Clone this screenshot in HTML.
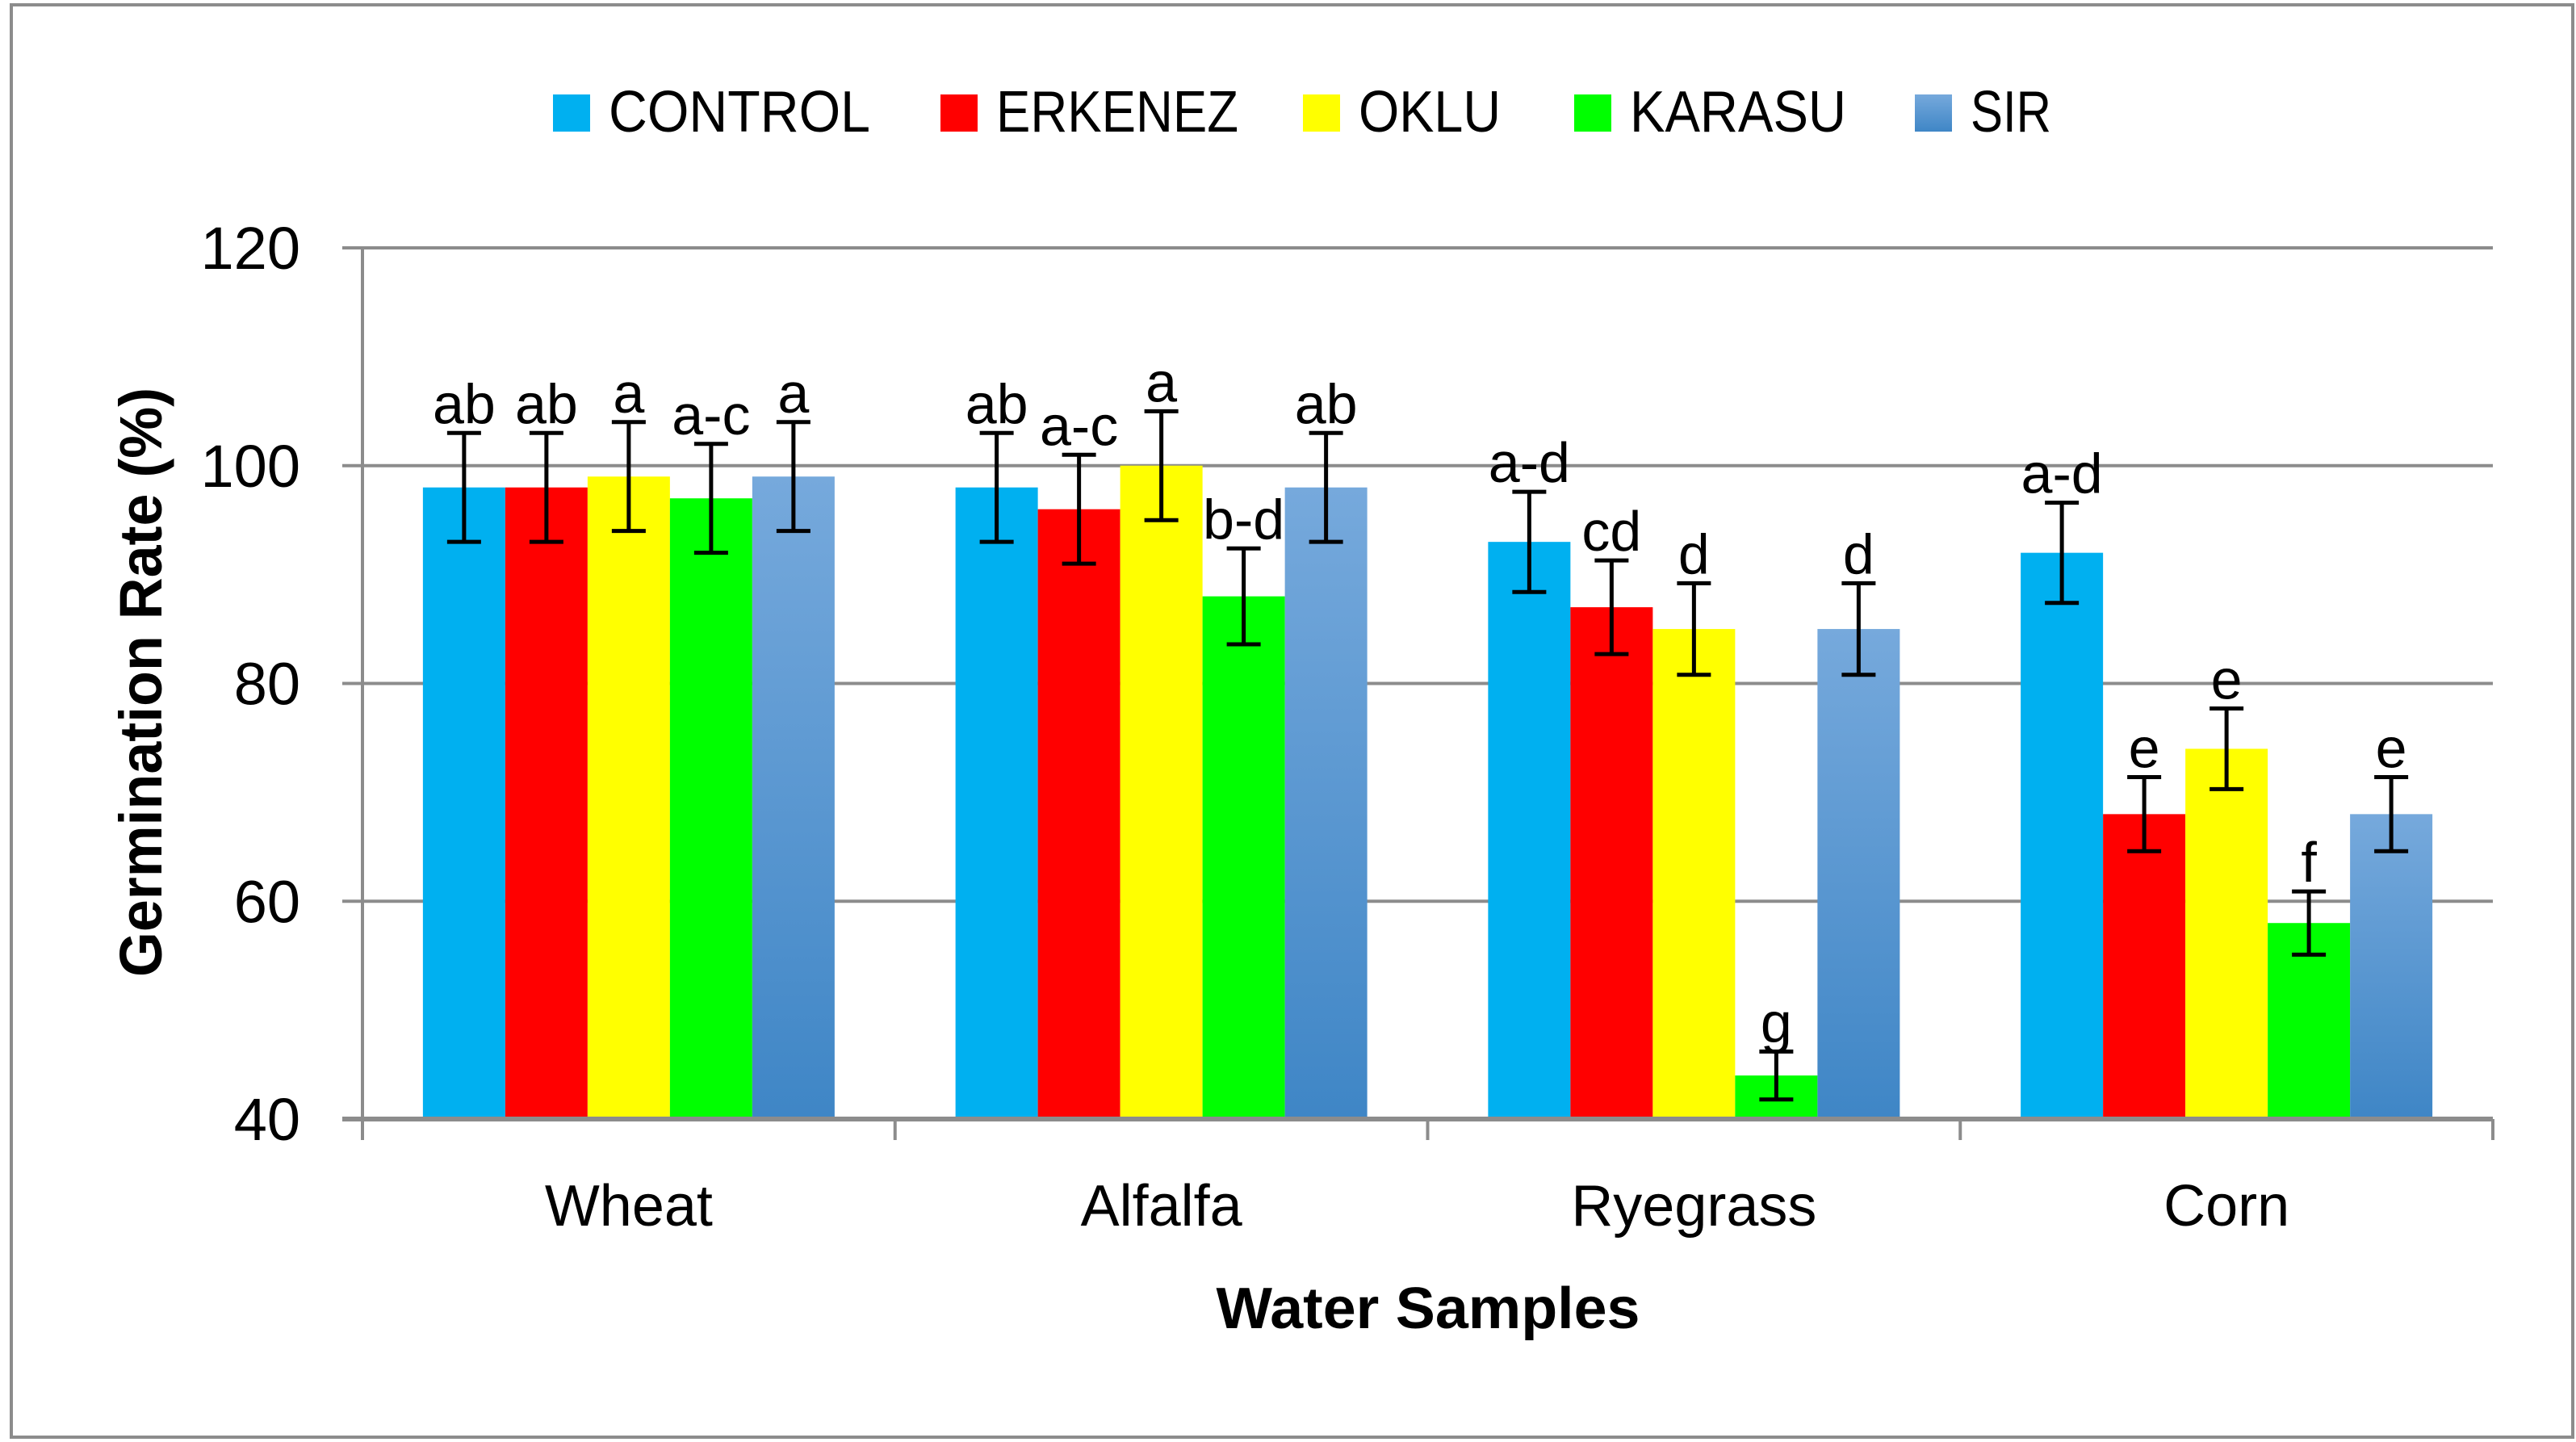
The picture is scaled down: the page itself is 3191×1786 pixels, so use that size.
<!DOCTYPE html>
<html><head><meta charset="utf-8"><style>
html,body{margin:0;padding:0;background:#fff;}
svg{display:block;font-family:"Liberation Sans",sans-serif;}
</style></head><body>
<svg id="chart" width="3191" height="1786" viewBox="0 0 3191 1786" xmlns="http://www.w3.org/2000/svg">
<defs>
<linearGradient id="sirGrad" x1="0" y1="0" x2="0" y2="1">
<stop offset="0" stop-color="#76a9dc"/><stop offset="1" stop-color="#3f86c6"/>
</linearGradient>
</defs>
<rect x="14" y="6" width="3173" height="1774" fill="#fff" stroke="#8c8c8c" stroke-width="4"/>
<g id="grid"></g>
<g id="bars"></g>
<g id="axes"></g>
<g id="legend"></g>
<text transform="translate(200,845) rotate(-90)" text-anchor="middle" font-size="74" font-weight="bold" textLength="730" lengthAdjust="spacingAndGlyphs">Germination Rate (%)</text>
<text x="1769" y="1645" text-anchor="middle" font-size="72" font-weight="bold" textLength="525" lengthAdjust="spacingAndGlyphs">Water Samples</text>
</svg>
<script>
const categories = ["Wheat","Alfalfa","Ryegrass","Corn"];
const seriesNames = ["CONTROL","ERKENEZ","OKLU","KARASU","SIR"];
const control = [98,98,93,92];
const erkenez = [98,96,87,68];
const oklu = [99,100,85,74];
const karasu = [97,88,44,58];
const sir = [99,98,85,68];
const controlErr = [5,5,4.6,4.6];
const erkenezErr = [5,5,4.3,3.4];
const okluErr = [5,5,4.2,3.7];
const karasuErr = [5,4.4,2.2,2.9];
const sirErr = [5,5,4.2,3.4];
const controlLbl = ["ab","ab","a-d","a-d"];
const erkenezLbl = ["ab","a-c","cd","e"];
const okluLbl = ["a","a","d","e"];
const karasuLbl = ["a-c","b-d","g","f"];
const sirLbl = ["a","ab","d","e"];
const yTicks = [40,60,80,100,120];

const values=[control,erkenez,oklu,karasu,sir];
const errs=[controlErr,erkenezErr,okluErr,karasuErr,sirErr];
const lbls=[controlLbl,erkenezLbl,okluLbl,karasuLbl,sirLbl];
const colors=["#00b0f0","#ff0000","#ffff00","#00ff00","url(#sirGrad)"];
const NS="http://www.w3.org/2000/svg";
const X0=449,X1=3088,Y0=1386,Y1=307,yMin=40,yMax=120;
const catW=(X1-X0)/categories.length, barW=102;
function y(v){return Y0-(v-yMin)/(yMax-yMin)*(Y0-Y1);}
function bx(c,s){return X0+c*catW+(catW-barW*seriesNames.length)/2+s*barW;}
function mk(tag,attrs,parent){const e=document.createElementNS(NS,tag);for(const k in attrs)e.setAttribute(k,attrs[k]);parent.appendChild(e);return e;}
const grid=document.getElementById('grid'),bars=document.getElementById('bars'),axes=document.getElementById('axes'),legend=document.getElementById('legend');
yTicks.forEach(t=>{
  const l=mk('line',{x1:424,x2:X1,y1:y(t),y2:y(t),stroke:'#8c8c8c','stroke-width':4},grid);
  
  
  const tx=mk('text',{x:372,y:y(t)+26,'text-anchor':'end','font-size':74},axes);
  tx.textContent=t;
  
  
});
const yax=mk('line',{x1:X0,x2:X0,y1:Y1,y2:1412,stroke:'#8c8c8c','stroke-width':4},axes);


const xax=mk('line',{x1:424,x2:X1,y1:Y0,y2:Y0,stroke:'#8c8c8c','stroke-width':6},axes);


for(let c=0;c<=categories.length;c++){
  const tk=mk('line',{x1:X0+c*catW,x2:X0+c*catW,y1:Y0,y2:1412,stroke:'#8c8c8c','stroke-width':4},axes);
  
  
}
categories.forEach((cat,c)=>{
  const t=mk('text',{x:X0+c*catW+catW/2,y:1518,'text-anchor':'middle','font-size':72},axes);
  t.textContent=cat;
  
  
  for(let s=0;s<seriesNames.length;s++){
    const v=values[s][c],e=errs[s][c],x=bx(c,s),cx=x+barW/2;
    const r=mk('rect',{x:x,y:y(v),width:barW,height:Y0-3-y(v),fill:colors[s]},bars);
    
    
    const g=mk('path',{d:`M${cx},${y(v+e)}V${y(v-e)}M${cx-21},${y(v+e)}H${cx+21}M${cx-21},${y(v-e)}H${cx+21}`,stroke:'#000','stroke-width':5,fill:'none'},bars);
    
    
    const lt=mk('text',{x:cx,y:y(v+e)-12,'text-anchor':'middle','font-size':70},bars);
    lt.textContent=lbls[s][c];
    
    
  }
});
const legSq=[685,1165,1614,1950,2372],legW=[324,300,176,268,100];
seriesNames.forEach((n,s)=>{
  const g=mk('g',{},legend);
  
  
  mk('rect',{x:legSq[s],y:117,width:46,height:46,fill:colors[s]},g);
  const t=mk('text',{x:legSq[s]+69,y:163,'font-size':72,textLength:legW[s],lengthAdjust:'spacingAndGlyphs'},g);
  t.textContent=n;
});
</script>
</body></html>
